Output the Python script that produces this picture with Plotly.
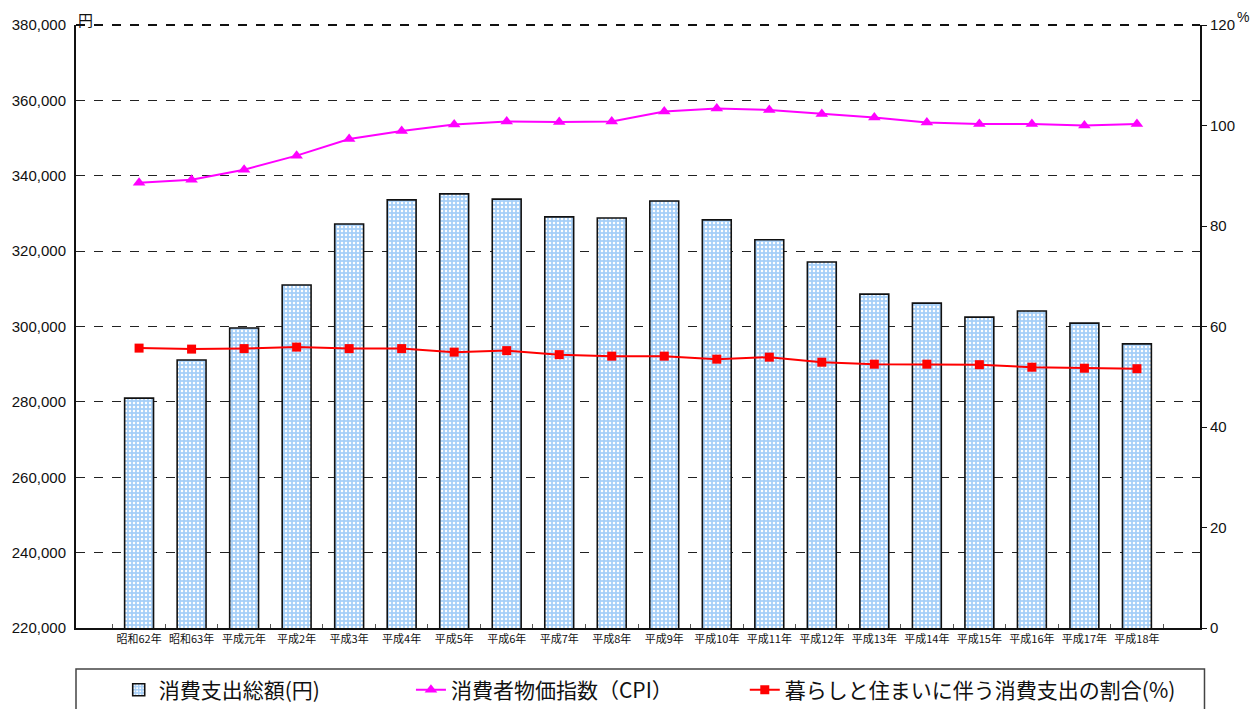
import plotly.graph_objects as go

categories = ["昭和62年", "昭和63年", "平成元年", "平成2年", "平成3年", "平成4年", "平成5年",
              "平成6年", "平成7年", "平成8年", "平成9年", "平成10年", "平成11年", "平成12年",
              "平成13年", "平成14年", "平成15年", "平成16年", "平成17年", "平成18年"]

spending_yen = [281000, 291100, 299600, 311000, 327200, 333600, 335200, 333800, 329100, 328800,
                333300, 328300, 323000, 317100, 308600, 306200, 302500, 304100, 300900, 295400]

cpi = [88.6, 89.2, 91.2, 94.0, 97.3, 98.9, 100.2, 100.8, 100.7, 100.8,
       102.8, 103.4, 103.1, 102.3, 101.6, 100.6, 100.3, 100.3, 100.0, 100.3]

housing_share = [55.7, 55.5, 55.6, 55.9, 55.6, 55.6, 54.9, 55.2, 54.4, 54.1,
                 54.1, 53.5, 53.9, 52.9, 52.5, 52.5, 52.4, 51.9, 51.7, 51.6]

left_ticks = list(range(220000, 380001, 20000))
right_ticks = list(range(0, 121, 20))

JP = "Noto Sans CJK JP"
NUM = "Liberation Sans, Arial, sans-serif"
BAR_BLUE = "#a6cff8"

fig = go.Figure()

fig.add_trace(go.Bar(
    x=categories, y=spending_yen, name="消費支出総額(円)",
    marker=dict(color=BAR_BLUE, line=dict(color="#111111", width=1.6),
                pattern=dict(shape=".", fgcolor="white", bgcolor=BAR_BLUE, size=4,
                             solidity=0.3, fillmode="replace")),
    width=0.55, legend="legend",
))

fig.add_trace(go.Scatter(
    x=categories, y=cpi, name="消費者物価指数（CPI）", yaxis="y2",
    mode="lines+markers", line=dict(color="#ff00ff", width=2),
    marker=dict(symbol="triangle-up", size=11, color="#ff00ff"),
    legend="legend2",
))

fig.add_trace(go.Scatter(
    x=categories, y=housing_share, name="暮らしと住まいに伴う消費支出の割合(%)", yaxis="y2",
    mode="lines+markers", line=dict(color="#ff0000", width=2),
    marker=dict(symbol="square", size=9, color="#ff0000"),
    legend="legend3",
))

legend_common = dict(orientation="h", yanchor="middle", xanchor="left", y=-0.103,
                     font=dict(family=JP, size=21, color="#111111"),
                     bgcolor="rgba(0,0,0,0)", borderwidth=0)

fig.update_layout(
    width=1250, height=701,
    margin=dict(l=68, r=58, t=17, b=81, autoexpand=False),
    paper_bgcolor="white", plot_bgcolor="white",
    showlegend=True,
    legend=dict(x=0.038, **legend_common),
    legend2=dict(x=0.298, **legend_common),
    legend3=dict(x=0.595, **legend_common),
    xaxis=dict(type="category", showline=True, linecolor="#111111", linewidth=2,
               ticks="inside", tickson="boundaries", ticklen=4, tickcolor="#555555",
               tickangle=0,
               tickfont=dict(family=JP, size=11, color="#111111"), showgrid=False),
    yaxis=dict(range=[220000, 380000], tickvals=left_ticks, tickformat=",",
               showgrid=True, gridcolor="#222222", gridwidth=1, griddash="dash",
               showline=True, linecolor="#111111", linewidth=2, ticks="",
               ticklabelstandoff=5,
               tickfont=dict(family=NUM, size=15, color="#111111"), zeroline=False),
    yaxis2=dict(range=[0, 120], tickvals=right_ticks, overlaying="y", side="right",
                showgrid=False, showline=True, linecolor="#111111", linewidth=2,
                ticks="outside", ticklen=5, tickcolor="#111111",
                tickfont=dict(family=NUM, size=15, color="#111111"), zeroline=False),
    shapes=[
        dict(type="rect", xref="paper", yref="paper", x0=0, x1=1.004, y0=-0.068, y1=-0.16,
             line=dict(color="#444444", width=1.5), fillcolor="rgba(0,0,0,0)"),
        dict(type="line", xref="paper", yref="paper", x0=0, x1=1, y0=1, y1=1,
             line=dict(color="#111111", width=2, dash="dash")),
    ],
    annotations=[
        dict(text="円", xref="paper", yref="paper", x=0.0, y=1.03, xanchor="left", yanchor="top",
             showarrow=False, font=dict(family=JP, size=15, color="#111111")),
        dict(text="%", xref="paper", yref="paper", x=1.031, y=1.03, xanchor="left", yanchor="top",
             showarrow=False, font=dict(family=NUM, size=14, color="#111111")),
    ],
)

fig.write_html("out.html")
